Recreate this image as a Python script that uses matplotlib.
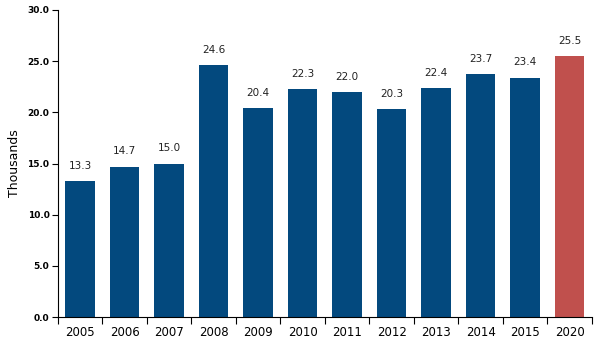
import matplotlib
matplotlib.use("Agg")
import matplotlib.pyplot as plt
import numpy as np

years = ["2005", "2006", "2007", "2008", "2009", "2010", "2011", "2012", "2013", "2014", "2015", "2020"]
values = [13.3, 14.7, 15.0, 24.6, 20.4, 22.3, 22.0, 20.3, 22.4, 23.7, 23.4, 25.5]
colors = ["#03497E"] * 11 + ["#C0504D"]

fig = plt.figure(figsize=(5.96, 3.44), dpi=100)
ax = fig.add_axes([0.097, 0.078, 0.896, 0.893])

x = np.arange(len(years))
bars = ax.bar(x, values, width=0.67, color=colors)

for xi, v in zip(x, values):
    ax.text(xi, v + 1.0, "{:.1f}".format(v), ha="center", va="bottom", fontsize=7.5, color="#222222")

ax.set_xlim(-0.5, len(years) - 0.5)
ax.set_ylim(0, 30)
ax.set_yticks(np.arange(0, 31, 5))
ax.set_yticklabels(["{:.1f}".format(t) for t in np.arange(0, 31, 5)], fontsize=6.5, fontweight="bold", family="Liberation Sans Narrow")
ax.set_xticks(x)
ax.set_xticklabels(years, fontsize=8.5)
ax.set_xticks(np.arange(-0.5, len(years)), minor=True)
ax.tick_params(axis="x", which="major", length=0, pad=6)
ax.tick_params(axis="x", which="minor", length=5, direction="out", width=0.8)
ax.tick_params(axis="y", length=4, direction="out", width=0.8, pad=2)
ax.set_ylabel("Thousands", fontsize=9, labelpad=5)

ax.spines["top"].set_visible(False)
ax.spines["right"].set_visible(False)

fig.savefig("out.png", dpi=100)
